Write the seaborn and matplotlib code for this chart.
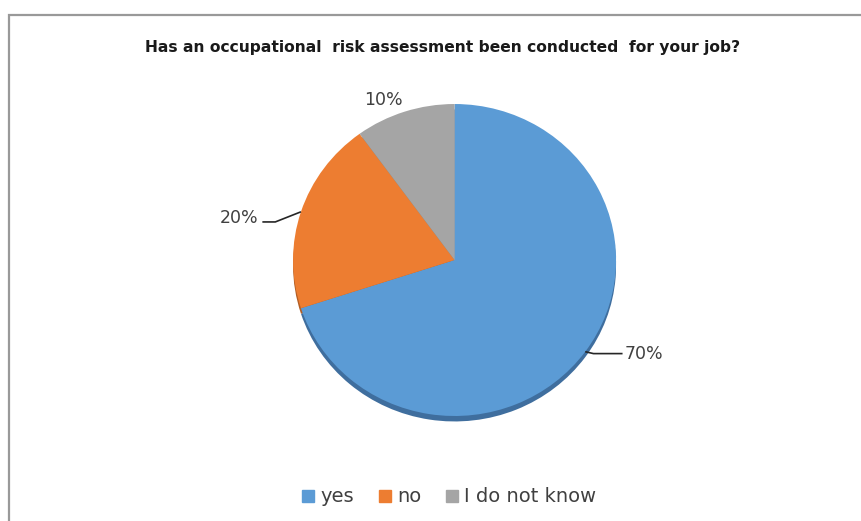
import numpy as np
import matplotlib
matplotlib.use("Agg")
import matplotlib.pyplot as plt
from matplotlib.patches import Rectangle
from matplotlib.lines import Line2D
import seaborn as sns

# Survey answers
categories = ["yes", "no", "I do not know"]
shares = [70, 20, 10]
pct_labels = ["70%", "20%", "10%"]
title = "Has an occupational  risk assessment been conducted  for your job?"

sns.set_theme(style="white")
plt.rcParams["font.family"] = ["DejaVu Sans"]
palette = sns.color_palette(["#5B9BD5", "#ED7D31", "#A5A5A5"])
shadow_palette = sns.color_palette(["#3F6E9E", "#B35E24", "#7D7D7D"])
text_color = "#404040"

fig = plt.figure(figsize=(8.61, 5.21), dpi=100)
fig.patch.set_facecolor("white")

# chart-area frame (cut off at the right and bottom)
fig.patches.append(Rectangle((8.5 / 861, -0.2), 1.5, (521 - 14.5) / 521 + 0.2,
                             transform=fig.transFigure, fill=False,
                             edgecolor="#999999", linewidth=1.6, zorder=0))

# plot area: slightly flattened pie
ax = fig.add_axes([0.3216, 0.1716, 0.4127, 0.6587])
ax.axis("off")

# depth shadow under the pie
ax.pie(shares, colors=shadow_palette, startangle=90,
       counterclock=False, center=(0, -0.035), radius=1.0,
       wedgeprops=dict(linewidth=0), frame=False)
wedges, _ = ax.pie(shares, colors=palette, startangle=90, counterclock=False,
                   center=(0, 0), radius=1.0,
                   wedgeprops=dict(linewidth=0), frame=False)
ax.set_xlim(-1.1, 1.1)
ax.set_ylim(-1.1, 1.1)
ax.set_aspect("auto")

# data labels: text position and optional leader line
label_layout = {
    "70%": dict(text=(1.173, -0.60), elbow=(0.86, -0.60), end=(1.04, -0.60), leader=True),
    "20%": dict(text=(-1.334, 0.269), elbow=(-1.11, 0.244), end=(-1.19, 0.244), leader=True),
    "10%": dict(text=(-0.443, 1.026), leader=False),
}
for w, lab in zip(wedges, pct_labels):
    mid = np.deg2rad((w.theta1 + w.theta2) / 2)
    anchor = (np.cos(mid), np.sin(mid))
    lay = label_layout[lab]
    if lay["leader"]:
        xs = [anchor[0], lay["elbow"][0], lay["end"][0]]
        ys = [anchor[1], lay["elbow"][1], lay["end"][1]]
        ax.plot(xs, ys, color="#262626", lw=1.2, solid_capstyle="butt", clip_on=False)
    ax.text(lay["text"][0], lay["text"][1], lab, ha="center", va="center",
            fontsize=12.5, color=text_color, clip_on=False)

fig.text(443 / 861, 1 - 47 / 521, title, ha="center", va="center",
         fontsize=11.2, fontweight="bold", color="#1a1a1a")

handles = [Line2D([0], [0], marker="s", linestyle="none", markersize=9,
                  markerfacecolor=c, markeredgecolor=c) for c in palette]
fig.legend(handles, categories, loc="center", bbox_to_anchor=(449 / 861, 1 - 497 / 521),
           ncol=3, frameon=False, fontsize=14, handlelength=0.7, handletextpad=0.3,
           columnspacing=1.2, labelcolor=text_color)

fig.savefig("out.png", dpi=100, facecolor="white")
